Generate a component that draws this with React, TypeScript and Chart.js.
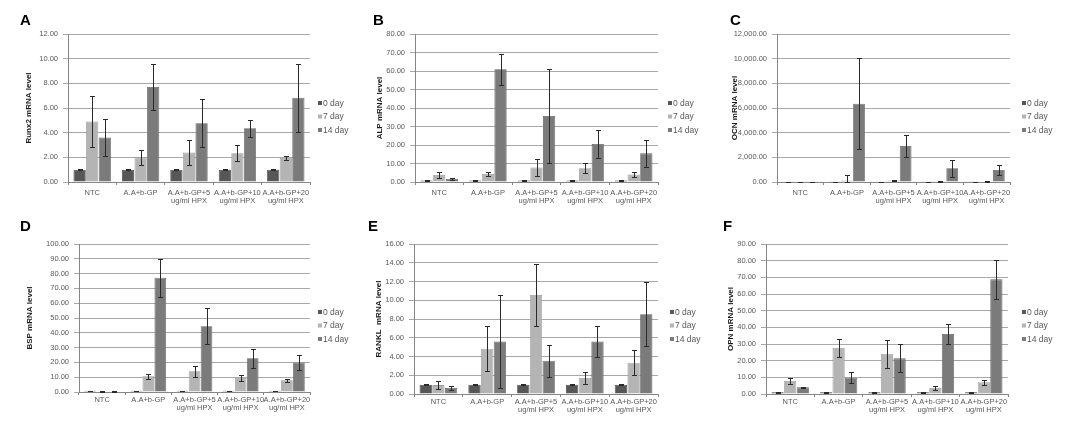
import React, { useEffect, useRef } from 'react';
import { Chart, registerables } from 'chart.js';
Chart.register(...registerables);

const categories = [
  'NTC',
  'A.A+b-GP',
  ['A.A+b-GP+5', 'ug/ml HPX'],
  ['A.A+b-GP+10', 'ug/ml HPX'],
  ['A.A+b-GP+20', 'ug/ml HPX'],
];
const seriesNames = ['0 day', '7 day', '14 day'];
const seriesColors = ['#575757', '#b4b4b4', '#7b7b7b'];
const seriesBorders = ['#3f3f3f', '#9a9a9a', '#626262'];

// A: Runx2
const runx2Day0 = [1.0, 1.0, 1.0, 1.0, 1.0];
const runx2Day7 = [4.9, 2.0, 2.4, 2.33, 1.95];
const runx2Day14 = [3.6, 7.7, 4.77, 4.36, 6.83];
const runx2Err0 = [0.05, 0.05, 0.05, 0.05, 0.05];
const runx2Err7 = [2.1, 0.6, 1.0, 0.65, 0.15];
const runx2Err14 = [1.5, 1.9, 1.95, 0.7, 2.75];

// B: ALP
const alpDay0 = [0.8, 0.8, 0.8, 0.8, 0.8];
const alpDay7 = [3.8, 4.3, 7.8, 7.4, 4.0];
const alpDay14 = [1.6, 61.0, 35.7, 20.6, 15.5];
const alpErr0 = [0.1, 0.1, 0.1, 0.1, 0.1];
const alpErr7 = [1.8, 1.2, 4.5, 2.7, 1.2];
const alpErr14 = [0.5, 8.3, 25.3, 7.6, 7.4];

// C: OCN
const ocnDay0 = [20, 30, 30, 30, 30];
const ocnDay7 = [30, 120, 130, 60, 40];
const ocnDay14 = [30, 6340, 2925, 1110, 975];
const ocnErr0 = [5, 5, 5, 5, 5];
const ocnErr7 = [10, 430, 40, 20, 10];
const ocnErr14 = [10, 3700, 870, 680, 400];

// D: BSP
const bspDay0 = [0.9, 0.9, 0.9, 0.9, 0.9];
const bspDay7 = [0.3, 10.6, 14.0, 9.5, 7.9];
const bspDay14 = [0.3, 77.2, 44.5, 22.8, 19.9];
const bspErr0 = [0.1, 0.1, 0.1, 0.1, 0.1];
const bspErr7 = [0.1, 1.6, 3.7, 1.8, 1.0];
const bspErr14 = [0.1, 13.0, 12.0, 6.5, 5.2];

// E: RANKL
const ranklDay0 = [1.0, 1.0, 1.0, 1.0, 1.0];
const ranklDay7 = [0.95, 4.82, 10.57, 1.7, 3.33];
const ranklDay14 = [0.64, 5.6, 3.55, 5.6, 8.5];
const ranklErr0 = [0.05, 0.05, 0.05, 0.05, 0.05];
const ranklErr7 = [0.4, 2.4, 3.3, 0.65, 1.35];
const ranklErr14 = [0.2, 4.95, 1.7, 1.65, 3.4];

// F: OPN
const opnDay0 = [1.0, 1.0, 1.0, 1.0, 1.0];
const opnDay7 = [7.8, 27.6, 24.2, 3.6, 7.0];
const opnDay14 = [4.0, 9.8, 21.4, 36.0, 68.8];
const opnErr0 = [0.1, 0.1, 0.1, 0.1, 0.1];
const opnErr7 = [2.0, 5.2, 8.4, 1.2, 1.4];
const opnErr14 = [0.5, 3.2, 8.4, 5.8, 11.6];

const panelLetters = ['A', 'B', 'C', 'D', 'E', 'F'];
const yTitles = ['Runx2 mRNA level', 'ALP mRNA level', 'OCN mRNA level', 'BSP mRNA level', 'RANKL  mRNA level', 'OPN mRNA level'];
const yMaxes = [12, 80, 12000, 100, 16, 90];
const ySteps = [2, 10, 2000, 10, 2, 10];

const panelData = [
  { values: [runx2Day0, runx2Day7, runx2Day14], errors: [runx2Err0, runx2Err7, runx2Err14] },
  { values: [alpDay0, alpDay7, alpDay14], errors: [alpErr0, alpErr7, alpErr14] },
  { values: [ocnDay0, ocnDay7, ocnDay14], errors: [ocnErr0, ocnErr7, ocnErr14] },
  { values: [bspDay0, bspDay7, bspDay14], errors: [bspErr0, bspErr7, bspErr14] },
  { values: [ranklDay0, ranklDay7, ranklDay14], errors: [ranklErr0, ranklErr7, ranklErr14] },
  { values: [opnDay0, opnDay7, opnDay14], errors: [opnErr0, opnErr7, opnErr14] },
];

// layout (absolute page pixels)
const layouts = [
  { left: 0, top: 0, w: 355, h: 215, axisX: 68, plotTop: 34, plotBottom: 182, plotRight: 310, legendX: 318, legendY: 103, letterX: 20, letterY: 25, titleX: 29, xPad: 4 },
  { left: 355, top: 0, w: 355, h: 215, axisX: 415, plotTop: 34, plotBottom: 182, plotRight: 658, legendX: 668, legendY: 103, letterX: 373, letterY: 25, titleX: 380, xPad: 4 },
  { left: 710, top: 0, w: 364, h: 215, axisX: 777, plotTop: 34, plotBottom: 182, plotRight: 1010, legendX: 1022, legendY: 103, letterX: 730, letterY: 25, titleX: 735, xPad: 4 },
  { left: 0, top: 205, w: 355, h: 218, axisX: 79, plotTop: 244, plotBottom: 392, plotRight: 310, legendX: 318, legendY: 312, letterX: 20, letterY: 231, titleX: 30, xPad: 1 },
  { left: 355, top: 205, w: 355, h: 218, axisX: 414, plotTop: 244, plotBottom: 394, plotRight: 658, legendX: 670, legendY: 312, letterX: 368, letterY: 231, titleX: 379, xPad: 1 },
  { left: 710, top: 205, w: 364, h: 218, axisX: 766, plotTop: 244, plotBottom: 394, plotRight: 1008, legendX: 1022, legendY: 312, letterX: 723, letterY: 231, titleX: 731, xPad: 1 },
];

const FONT = "'Liberation Sans', Arial, sans-serif";

function fmt(v: number) {
  return v.toLocaleString('en-US', { minimumFractionDigits: 2, maximumFractionDigits: 2 });
}

function Panel({ idx }: { idx: number }) {
  const ref = useRef<HTMLCanvasElement>(null);
  const L = layouts[idx];
  useEffect(() => {
    const canvas = ref.current!;
    const pd = panelData[idx];
    const titleFontSize = 8;
    const titleLH = titleFontSize * 1.2;
    const plugin = {
      id: 'extras' + idx,
      afterDatasetsDraw(chart: any) {
        const ctx = chart.ctx;
        const y = chart.scales.y;
        ctx.save();
        ctx.strokeStyle = '#2a2a2a';
        ctx.lineWidth = 1;
        chart.data.datasets.forEach((ds: any, i: number) => {
          const meta = chart.getDatasetMeta(i);
          meta.data.forEach((bar: any, j: number) => {
            const v = pd.values[i][j];
            const e = pd.errors[i][j];
            const x = Math.round(bar.x) + 0.5;
            const yt = Math.round(y.getPixelForValue(v + e)) + 0.5;
            const yb = Math.round(y.getPixelForValue(Math.max(v - e, 0))) + 0.5;
            ctx.beginPath();
            ctx.moveTo(x, yt);
            ctx.lineTo(x, yb);
            ctx.moveTo(x - 2.5, yt);
            ctx.lineTo(x + 2.5, yt);
            ctx.moveTo(x - 2.5, yb);
            ctx.lineTo(x + 2.5, yb);
            ctx.stroke();
          });
        });
        ctx.restore();
      },
      afterDraw(chart: any) {
        const ctx = chart.ctx;
        ctx.save();
        // panel letter
        ctx.fillStyle = '#000';
        ctx.font = `bold 15px ${FONT}`;
        ctx.textBaseline = 'alphabetic';
        ctx.textAlign = 'left';
        ctx.fillText(panelLetters[idx], L.letterX - L.left, L.letterY - L.top);
        // legend
        ctx.font = `8.5px ${FONT}`;
        ctx.textBaseline = 'middle';
        seriesNames.forEach((name, i) => {
          const yy = L.legendY - L.top + i * 13.5;
          const xx = L.legendX - L.left;
          ctx.fillStyle = seriesColors[i];
          ctx.fillRect(xx, yy - 2, 4, 4);
          ctx.fillStyle = '#595959';
          ctx.fillText(name, xx + 5, yy + 0.5);
        });
        ctx.restore();
      },
    };
    const chart = new Chart(canvas, {
      type: 'bar',
      data: {
        labels: categories as any,
        datasets: seriesNames.map((name, i) => ({
          label: name,
          data: pd.values[i],
          backgroundColor: seriesColors[i],
          borderColor: seriesBorders[i],
          borderWidth: 0.8,
          categoryPercentage: 0.78,
          barPercentage: 0.97,
        })),
      },
      options: {
        responsive: false,
        animation: false,
        devicePixelRatio: 1,
        layout: {
          padding: { top: L.plotTop - L.top, right: L.left + L.w - L.plotRight, left: 0, bottom: 0 },
        },
        plugins: {
          legend: { display: false },
          tooltip: { enabled: false },
        },
        scales: {
          x: {
            offset: true,
            grid: { offset: true, drawOnChartArea: false, drawTicks: true, tickLength: 3, color: '#868686' },
            border: { display: true, color: '#868686' },
            ticks: {
              autoSkip: false,
              maxRotation: 0,
              minRotation: 0,
              padding: L.xPad,
              color: '#595959',
              font: { family: FONT, size: 7.5, lineHeight: 1.1 },
            },
            afterFit: (scale: any) => {
              scale.height = L.top + L.h - L.plotBottom;
            },
          },
          y: {
            min: 0,
            max: yMaxes[idx],
            grid: { color: '#a8a8a8', tickLength: 5, drawTicks: true },
            border: { display: true, color: '#868686' },
            ticks: {
              stepSize: ySteps[idx],
              padding: 5,
              color: '#595959',
              font: { family: FONT, size: 7.5 },
              callback: (v: any) => fmt(Number(v)),
            },
            title: {
              display: true,
              text: yTitles[idx],
              color: '#1a1a1a',
              font: { family: FONT, size: titleFontSize, weight: 'bold', lineHeight: 1.2 },
              padding: { top: L.titleX - L.left - titleLH / 2, bottom: 0 },
            },
            afterFit: (scale: any) => {
              scale.width = L.axisX - L.left;
            },
          },
        },
      },
      plugins: [plugin as any],
    } as any);
    return () => chart.destroy();
  }, []);
  return (
    <canvas
      ref={ref}
      width={L.w}
      height={L.h}
      style={{ position: 'absolute', left: L.left, top: L.top, width: L.w, height: L.h }}
    />
  );
}

export default function App() {
  return (
    <div style={{ position: 'absolute', left: 0, top: 0, width: 1074, height: 423, background: '#fff', overflow: 'hidden' }}>
      {layouts.map((_, i) => (
        <Panel key={i} idx={i} />
      ))}
    </div>
  );
}
